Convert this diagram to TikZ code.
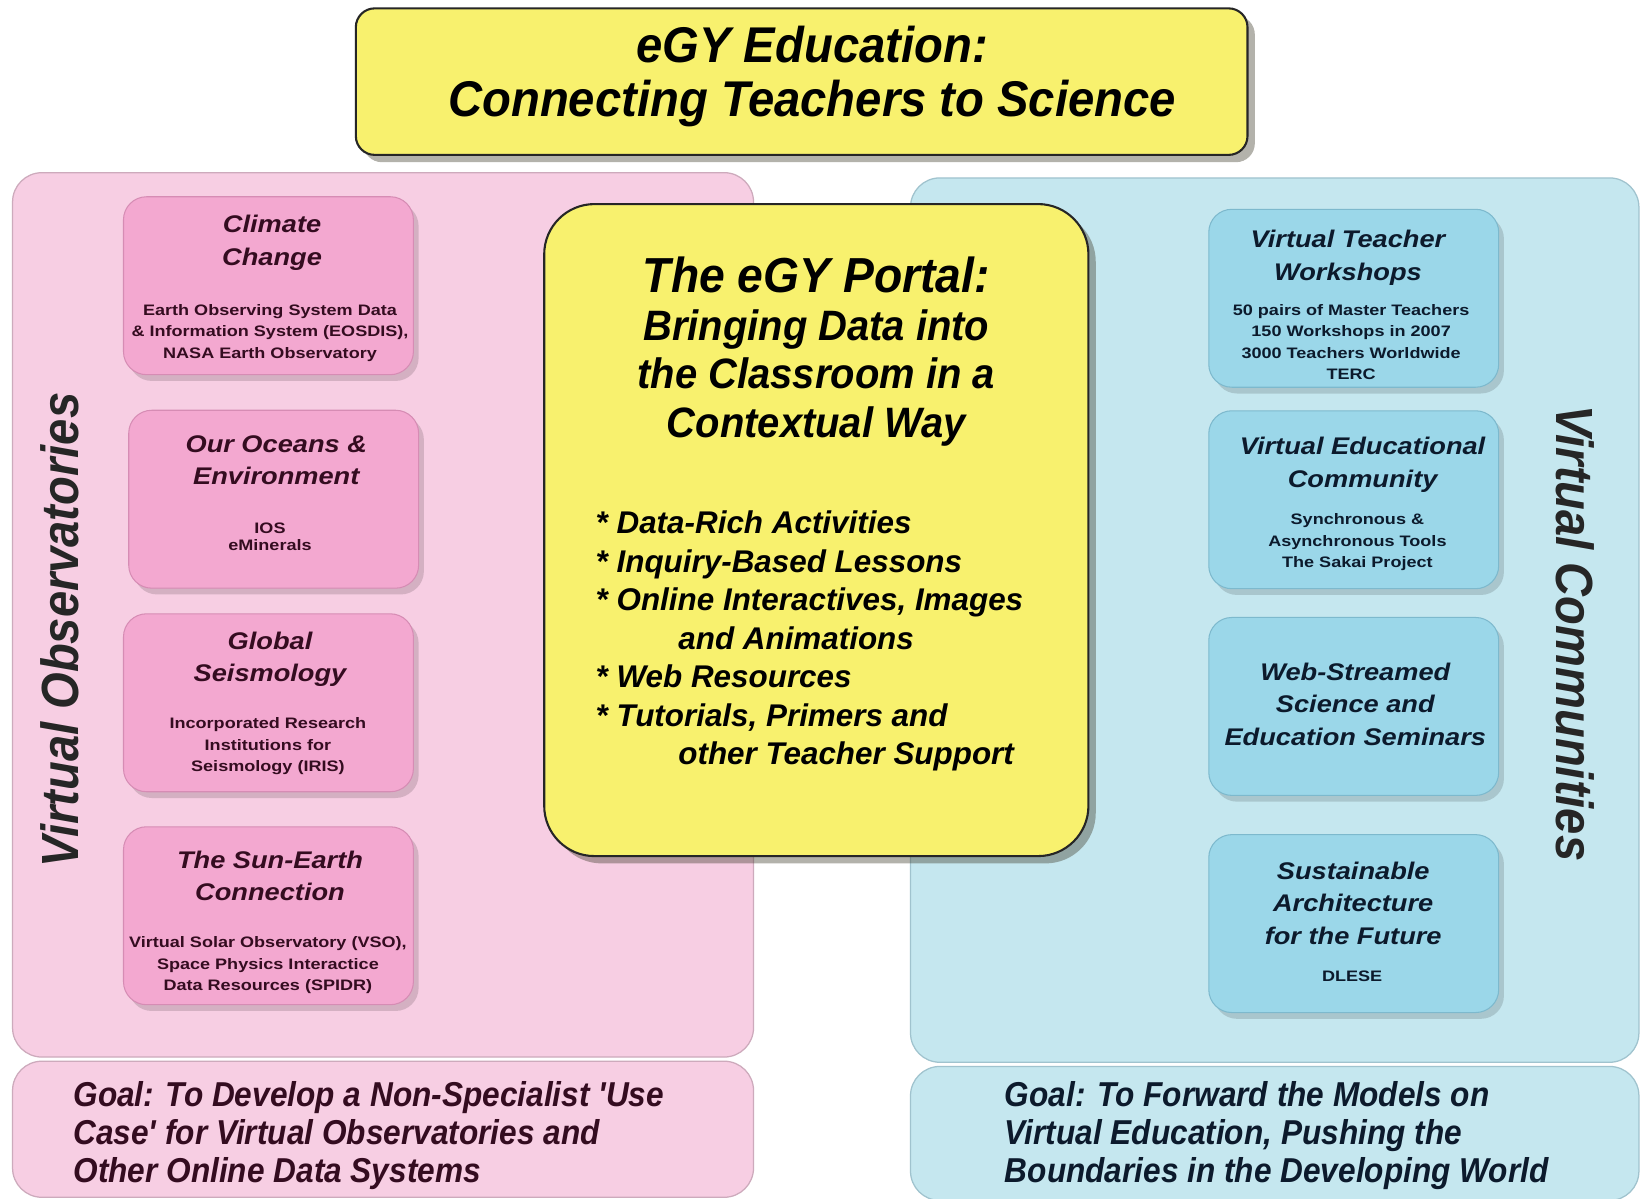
\documentclass[tikz,border=0pt]{standalone}
\usepackage{fontspec}
\setmainfont{Liberation Sans}
\newfontfamily\titlefont[FakeStretch=0.94]{Liberation Sans}
\newfontfamily\goalfont[FakeStretch=0.915]{Liberation Sans}
\newfontfamily\headfont[FakeStretch=1.13]{Liberation Sans}
\newfontfamily\smallfont[FakeStretch=1.19]{Liberation Sans}
\newfontfamily\sidefont[FakeStretch=0.9]{Liberation Sans}
\usetikzlibrary{shadows}

\definecolor{pinkbg}{RGB}{247,206,227}
\definecolor{pinkedge}{RGB}{205,170,188}
\definecolor{pinkcard}{RGB}{243,168,208}
\definecolor{pinkcardedge}{RGB}{214,140,180}
\definecolor{bluebg}{RGB}{197,231,239}
\definecolor{blueedge}{RGB}{160,195,206}
\definecolor{bluecard}{RGB}{155,215,233}
\definecolor{bluecardedge}{RGB}{125,185,205}
\definecolor{yellowbox}{RGB}{248,241,110}
\definecolor{pinktext}{RGB}{52,12,32}
\definecolor{bluetext}{RGB}{12,26,44}

\tikzset{
  panelbox/.style={rectangle, rounded corners=28pt, line width=1.2pt, inner sep=0pt},
  pinkpanel/.style={panelbox, fill=pinkbg, draw=pinkedge},
  bluepanel/.style={panelbox, fill=bluebg, draw=blueedge},
  cardbox/.style={rectangle, rounded corners=22pt, line width=1pt, inner sep=0pt,
    minimum width=277pt, minimum height=170pt,
    drop shadow={shadow xshift=5pt, shadow yshift=-6pt, opacity=0.14, fill=black}},
  pinkbox/.style={cardbox, fill=pinkcard, draw=pinkcardedge},
  bluebox/.style={cardbox, fill=bluecard, draw=bluecardedge},
  yellowcard/.style={rectangle, fill=yellowbox, draw=black!85, line width=2pt, inner sep=0pt,
    drop shadow={shadow xshift=7pt, shadow yshift=-7pt, opacity=0.4, fill=black!70!olive}},
  cardhead/.style={align=center, inner sep=0pt, font=\headfont\bfseries\itshape\fontsize{23}{31}\selectfont},
  carddetail/.style={align=center, inner sep=0pt, font=\smallfont\bfseries\fontsize{14.5}{20.5}\selectfont},
  goaltext/.style={align=left, anchor=west, inner sep=0pt, font=\goalfont\bfseries\itshape\fontsize{33}{36.5}\selectfont},
  sidetext/.style={inner sep=0pt, font=\sidefont\bfseries\itshape\fontsize{50}{50}\selectfont},
}

\begin{document}
\begin{tikzpicture}[x=1pt,y=-1pt]
\useasboundingbox[fill=white] (0,0) rectangle (1568,1145);

% side panels and goal strips
\node[pinkpanel, minimum width=708pt, minimum height=845pt] (obspanel) at (366,587.5) {};
\node[pinkpanel, minimum width=708pt, minimum height=130pt] (obsgoal) at (366,1079) {};
\node[bluepanel, minimum width=696pt, minimum height=845pt] (companel) at (1218,592.5) {};
\node[bluepanel, minimum width=696pt, minimum height=128pt] (comgoal) at (1218,1083) {};

% heading box
\node[yellowcard, rounded corners=18pt, minimum width=852pt, minimum height=140pt] (head) at (766,78) {};
\node[align=center, inner sep=0pt, font=\titlefont\bfseries\itshape\fontsize{48}{52}\selectfont] (headtext) at (776,73)
  {eGY Education:\\Connecting Teachers to Science};

% portal box
\node[yellowcard, rounded corners=48pt, minimum width=520pt, minimum height=623pt] (portal) at (780,506.5) {};
\node[inner sep=0pt, font=\titlefont\bfseries\itshape\fontsize{47}{47}\selectfont] (portaltitle) at (780,263) {The eGY Portal:};
\node[align=center, inner sep=0pt, font=\titlefont\bfseries\itshape\fontsize{40.6}{46.5}\selectfont] (portalsub) at (780,361)
  {Bringing Data into\\the Classroom in a\\Contextual Way};
\node[align=left, anchor=west, inner sep=0pt, font=\bfseries\itshape\fontsize{30}{36.8}\selectfont] (portallist) at (569,612.5)
  {* Data-Rich Activities\\
   * Inquiry-Based Lessons\\
   * Online Interactives, Images\\
   \hspace*{79pt}and Animations\\
   * Web Resources\\
   * Tutorials, Primers and\\
   \hspace*{79pt}other Teacher Support};

% virtual observatories
\node[pinkbox] (climate) at (256.5,273) {};
\node[cardhead, text=pinktext] (climatehead) at (260,232) {Climate\\Change};
\node[carddetail, text=pinktext] (climatedet) at (258,318)
  {Earth Observing System Data\\\& Information System (EOSDIS),\\NASA Earth Observatory};

\node[pinkbox] (oceans) at (261.5,477) {};
\node[cardhead, text=pinktext] (oceanshead) at (264,440) {Our Oceans \&\\Environment};
\node[carddetail, text=pinktext, font=\smallfont\bfseries\fontsize{14.5}{16}\selectfont] (oceansdet) at (258,513) {IOS\\eMinerals};

\node[pinkbox] (seismo) at (256.5,671.5) {};
\node[cardhead, text=pinktext] (seismohead) at (258,630) {Global\\Seismology};
\node[carddetail, text=pinktext] (seismodet) at (256,713)
  {Incorporated Research\\Institutions for\\Seismology (IRIS)};

\node[pinkbox] (sunearth) at (256.5,875) {};
\node[cardhead, text=pinktext] (sunearthhead) at (258,837) {The Sun-Earth\\Connection};
\node[carddetail, text=pinktext] (sunearthdet) at (256,922.5)
  {Virtual Solar Observatory (VSO),\\Space Physics Interactice\\Data Resources (SPIDR)};

\node[sidetext, text=black!85, rotate=90] (obslabel) at (57,602) {Virtual Observatories};

% virtual communities
\node[bluebox] (workshops) at (1293.5,285) {};
\node[cardhead, text=bluetext] (workshopshead) at (1288,246.5) {Virtual Teacher\\Workshops};
\node[carddetail, text=bluetext] (workshopsdet) at (1291,327)
  {50 pairs of Master Teachers\\150 Workshops in 2007\\3000 Teachers Worldwide\\TERC};

\node[bluebox] (community) at (1293.5,477.5) {};
\node[cardhead, text=bluetext] (communityhead) at (1302,444) {Virtual Educational\\Community};
\node[carddetail, text=bluetext] (communitydet) at (1297,518)
  {Synchronous \&\\Asynchronous Tools\\The Sakai Project};

\node[bluebox] (seminars) at (1293.5,675) {};
\node[cardhead, text=bluetext] (seminarshead) at (1295,673) {Web-Streamed\\Science and\\Education Seminars};

\node[bluebox] (future) at (1293.5,882.5) {};
\node[cardhead, text=bluetext] (futurehead) at (1293,863) {Sustainable\\Architecture\\for the Future};
\node[carddetail, text=bluetext] (futuredet) at (1292,933) {DLESE};

\node[sidetext, text=black!85, rotate=-90] (comlabel) at (1505,605) {Virtual Communities};

% goals
\node[goaltext, text=pinktext] (obsgoaltext) at (70,1085)
  {Goal: To Develop a Non-Specialist 'Use\\Case' for Virtual Observatories and\\Other Online Data Systems};
\node[goaltext, text=bluetext] (comgoaltext) at (960,1085)
  {Goal: To Forward the Models on\\Virtual Education, Pushing the\\Boundaries in the Developing World};
\end{tikzpicture}
\end{document}
